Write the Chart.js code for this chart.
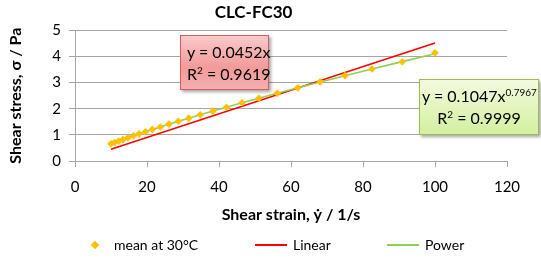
<!DOCTYPE html>
<html lang="en">
<head>
  <meta charset="UTF-8">
  <title>CLC-FC30</title>
  <script src="https://cdn.jsdelivr.net/npm/chart.js"></script>
  <style>
    body {
      margin: 0;
      font-family: Lato, "Open Sans", sans-serif;
      background: #fff;
    }
    #wrap {
      position: relative;
      width: 541px;
      height: 260px;
    }
    .box {
      position: absolute;
      font-size: 16px;
      line-height: 22px;
      color: #000;
      white-space: nowrap;
      box-sizing: border-box;
      box-shadow: 2px 2px 3px rgba(0,0,0,0.35);
    }
    #boxLin {
      left: 180px; top: 35px; width: 89px; height: 55px;
      padding: 5px 4px 4px 6px;
      background: linear-gradient(#f9c9c9, #f29a9a 60%, #f4aeae);
      border: 1px solid #d06060;
    }
    #boxPow {
      left: 419px; top: 79px; width: 120px; height: 56px;
      padding: 5px 2px;
      text-align: center;
      background: linear-gradient(#f2fbdf, #d3ef9f);
      border: 1px solid #9bbb59;
    }
    sup { font-size: 10px; line-height: 0; }
    #legend {
      position: absolute;
      top: 236px;
      left: 0;
      width: 541px;
      font-size: 14px;
      color: #000;
    }
    .item { position: absolute; top: 0; white-space: nowrap; }
    .dia {
      display: inline-block; width: 6px; height: 6px; background: #ffc000;
      transform: rotate(45deg); margin-right: 16px; vertical-align: 2px;
    }
    .ln {
      display: inline-block; width: 32px; height: 2px;
      margin-right: 6px; vertical-align: 4px;
    }
  </style>
</head>
<body>
<div id="wrap">
  <canvas id="chart" width="541" height="260"></canvas>
  <div class="box" id="boxLin">y = 0.0452x<br>R<sup>2</sup> = 0.9619</div>
  <div class="box" id="boxPow">y = 0.1047x<sup>0.7967</sup><br>R<sup>2</sup> = 0.9999</div>
  <div id="legend">
    <span class="item" style="left:92px"><span class="dia"></span>mean at 30°C</span>
    <span class="item" style="left:255px"><span class="ln" style="background:#ff0000"></span>Linear</span>
    <span class="item" style="left:387px"><span class="ln" style="background:#92d050"></span>Power</span>
  </div>
</div>

<script>
  // measured points (shear rate, shear stress)
  const strainRate = [10, 11, 12.1, 13.3, 14.7, 16.2, 17.8, 19.6, 21.5, 23.7, 26.1, 28.7, 31.6,
    34.8, 38.3, 42.1, 46.4, 51.1, 56.2, 61.9, 68.1, 75, 82.5, 90.9, 100];
  const stressMean = [0.66, 0.71, 0.76, 0.82, 0.89, 0.96, 1.04, 1.12, 1.21, 1.30, 1.41, 1.52, 1.64,
    1.77, 1.91, 2.06, 2.23, 2.40, 2.59, 2.80, 3.03, 3.27, 3.52, 3.80, 4.14];

  // trendlines
  const linearX = [10, 100];
  const linearY = [0.45, 4.52];
  const powerY = [0.656, 0.707, 0.763, 0.823, 0.891, 0.963, 1.038, 1.121, 1.206, 1.304, 1.408, 1.518, 1.640,
    1.771, 1.911, 2.061, 2.227, 2.405, 2.594, 2.801, 3.023, 3.264, 3.522, 3.805, 4.108];

  const xTicks = [0, 20, 40, 60, 80, 100, 120];
  const yTicks = [0, 1, 2, 3, 4, 5];

  const pts = (xs, ys) => xs.map((x, i) => ({ x: x, y: ys[i] }));
  const axisFont = { family: 'Lato', size: 15 };
  const titleFont = { family: 'Lato', size: 16, weight: 'bold' };

  new Chart(document.getElementById('chart'), {
    type: 'scatter',
    data: {
      datasets: [
        {
          label: 'mean at 30°C',
          data: pts(strainRate, stressMean),
          pointStyle: 'rectRot',
          pointRadius: 3.8,
          backgroundColor: '#ffc000',
          borderColor: '#ffc000',
          borderWidth: 0,
          order: 0
        },
        {
          label: 'Linear',
          data: pts(linearX, linearY),
          showLine: true,
          pointRadius: 0,
          borderColor: '#ff0000',
          borderWidth: 1.6,
          order: 2
        },
        {
          label: 'Power',
          data: pts(strainRate, powerY),
          showLine: true,
          pointRadius: 0,
          borderColor: '#92d050',
          borderWidth: 1.6,
          order: 1
        }
      ]
    },
    options: {
      responsive: false,
      animation: false,
      layout: { padding: { top: 0, right: 34, bottom: 35, left: 0 } },
      plugins: {
        legend: { display: false },
        tooltip: { enabled: false },
        title: {
          display: true,
          text: 'CLC-FC30',
          color: '#000',
          font: { family: 'Lato', size: 17, weight: 'bold' },
          padding: { top: 2, bottom: 8 }
        }
      },
      scales: {
        x: {
          type: 'linear',
          min: 0, max: 120,
          afterBuildTicks: s => { s.ticks = xTicks.map(v => ({ value: v })); },
          afterFit: s => { s.height = 64; },
          ticks: { color: '#000', font: axisFont, padding: 11, maxRotation: 0 },
          grid: { drawOnChartArea: false, drawTicks: true, tickLength: 6, color: '#a6a6a6' },
          border: { color: '#a6a6a6' },
          title: {
            display: true,
            text: 'Shear strain, \u1E8F / 1/s',
            color: '#000',
            font: titleFont,
            padding: { top: 0, bottom: 1 }
          }
        },
        y: {
          min: 0, max: 5,
          afterBuildTicks: s => { s.ticks = yTicks.map(v => ({ value: v })); },
          afterFit: s => { s.width = 75; },
          ticks: { color: '#000', font: axisFont, padding: 8 },
          grid: { color: '#a6a6a6', tickLength: 6 },
          border: { color: '#a6a6a6' },
          title: {
            display: true,
            text: 'Shear stress, \u03C3 / Pa',
            color: '#000',
            font: titleFont,
            padding: { top: 6, bottom: 0 }
          }
        }
      }
    }
  });
</script>
</body>
</html>
